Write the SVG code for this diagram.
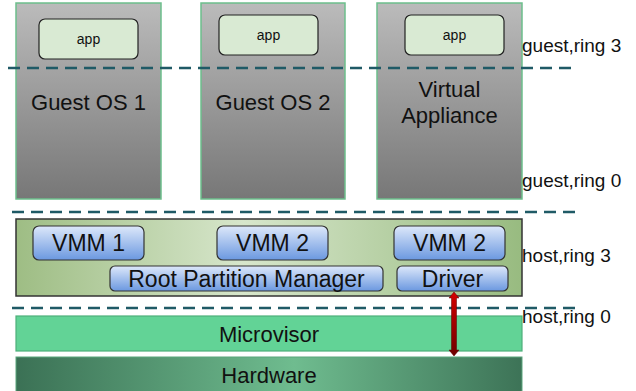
<svg xmlns="http://www.w3.org/2000/svg" width="636" height="391" viewBox="0 0 636 391">
<defs>
<linearGradient id="gGuest" x1="0" y1="0" x2="0" y2="1"><stop offset="0" stop-color="#bbbbbb"/><stop offset="1" stop-color="#777777"/></linearGradient>
<linearGradient id="gHost" x1="0" y1="0" x2="1" y2="0"><stop offset="0" stop-color="#9ebd84"/><stop offset="0.45" stop-color="#d7e6cb"/><stop offset="1" stop-color="#98bb80"/></linearGradient>
<linearGradient id="gVmm" x1="0" y1="0" x2="0" y2="1"><stop offset="0" stop-color="#dde8fa"/><stop offset="1" stop-color="#6b98e0"/></linearGradient>
<linearGradient id="gHw" x1="0" y1="0" x2="1" y2="0"><stop offset="0" stop-color="#3b7155"/><stop offset="0.55" stop-color="#6fbc8f"/><stop offset="1" stop-color="#3d7357"/></linearGradient>
<linearGradient id="gArrow" x1="0" y1="0" x2="0" y2="1"><stop offset="0" stop-color="#d40000"/><stop offset="1" stop-color="#6e0000"/></linearGradient>
<style>
.guest{fill:url(#gGuest);stroke:#6cbf8c;stroke-width:1.5}
.app{fill:#d9ead3;stroke:#222;stroke-width:1.2}
.vmm{fill:url(#gVmm);stroke:#333;stroke-width:1.2}
.dash{stroke:#1f5a66;stroke-width:2.5;stroke-dasharray:12 7;fill:none}
text{font-family:"Liberation Sans",Arial,sans-serif;fill:#111}
.t14{font-size:14px}
.t22{font-size:22px}
.t23{font-size:23px}
.lbl{font-size:19px}
</style>
</defs>
<g id="guest1"><rect class="guest" x="16" y="3" width="145" height="196"/><text class="t22" x="88.5" y="110" text-anchor="middle">Guest OS 1</text></g>
<g id="app1"><rect class="app" x="39" y="19" width="99" height="40" rx="6"/><text class="t14" x="88.5" y="44" text-anchor="middle">app</text></g>
<g id="guest2"><rect class="guest" x="201" y="3" width="144" height="196"/><text class="t22" x="273" y="110" text-anchor="middle">Guest OS 2</text></g>
<g id="app2"><rect class="app" x="219" y="15" width="99" height="40" rx="6"/><text class="t14" x="268.5" y="40" text-anchor="middle">app</text></g>
<g id="va"><rect class="guest" x="377" y="3" width="145" height="196"/><text class="t22" x="449.5" y="97" text-anchor="middle">Virtual</text><text class="t22" x="449.5" y="123" text-anchor="middle">Appliance</text></g>
<g id="app3"><rect class="app" x="405" y="15" width="99" height="40" rx="6"/><text class="t14" x="454.5" y="40" text-anchor="middle">app</text></g>
<g id="host"><rect x="16" y="219" width="506" height="77" fill="url(#gHost)" stroke="#333" stroke-width="1.5"/></g>
<g id="vmm1"><rect class="vmm" x="33" y="226" width="111" height="34" rx="6"/><text class="t23" x="88.5" y="251" text-anchor="middle">VMM 1</text></g>
<g id="vmm2a"><rect class="vmm" x="217" y="226" width="111" height="34" rx="6"/><text class="t23" x="272.5" y="251" text-anchor="middle">VMM 2</text></g>
<g id="vmm2b"><rect class="vmm" x="394" y="226" width="111" height="34" rx="6"/><text class="t23" x="449.5" y="251" text-anchor="middle">VMM 2</text></g>
<g id="rpm"><rect class="vmm" x="110" y="266" width="273" height="25" rx="5"/><text class="t23" x="246.5" y="287" text-anchor="middle">Root Partition Manager</text></g>
<g id="driver"><rect class="vmm" x="397" y="266" width="111" height="25" rx="5"/><text class="t23" x="452.5" y="287" text-anchor="middle">Driver</text></g>
<g id="microvisor"><rect x="16" y="316" width="506" height="35" fill="#62d396" stroke="#4db07a" stroke-width="1.2"/><text class="t22" x="269" y="342" text-anchor="middle">Microvisor</text></g>
<g id="hardware"><rect x="16" y="357" width="506" height="36" fill="url(#gHw)" stroke="#5aa57c" stroke-width="1"/><text class="t22" x="269" y="383" text-anchor="middle">Hardware</text></g>
<g id="labels">
<text class="lbl" x="522" y="52">guest,ring 3</text>
<text class="lbl" x="522" y="187">guest,ring 0</text>
<text class="lbl" x="522" y="262">host,ring 3</text>
<text class="lbl" x="522" y="323">host,ring 0</text>
</g>
<g id="connectors">
<line class="dash" x1="8" y1="68" x2="574" y2="68"/>
<line class="dash" x1="12" y1="212" x2="577" y2="212"/>
<line class="dash" x1="12" y1="308" x2="577" y2="308"/>
<path d="M454 292 L459 298 L456.5 298 L456.5 350 L459 350 L454 356 L449 350 L451.5 350 L451.5 298 L449 298 Z" fill="url(#gArrow)" stroke="#5a0000" stroke-width="0.5"/>
</g>
</svg>
